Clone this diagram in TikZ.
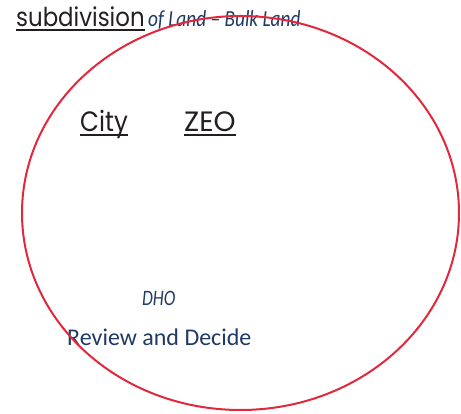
\documentclass[tikz,border=0pt]{standalone}
\usepackage{fontspec}
\setmainfont{Carlito}
\newfontfamily\geofont{Poppins}
\usepackage{tikz}
\usetikzlibrary{positioning, calc}
\definecolor{ringred}{HTML}{E1283C}
\definecolor{deepblue}{HTML}{1F3A64}
\definecolor{inkgray}{HTML}{231F20}
\tikzset{
  headtext/.style={
    inner sep=0pt, text=inkgray, font=\geofont\fontsize{26}{30}\selectfont
  },
  partytext/.style={
    inner sep=0pt, text=inkgray, font=\geofont\fontsize{28}{32}\selectfont
  },
  subtext/.style={
    inner sep=0pt, text=deepblue, font=\itshape\fontsize{23}{26}\selectfont
  },
  bodytext/.style={
    inner sep=0pt, text=deepblue, font=\fontsize{24}{28}\selectfont
  },
  ulineline/.style={inkgray, line width=1.2pt},
  ringline/.style={ringred, line width=2pt},
}

\begin{document}
\begin{tikzpicture}[x=1pt, y=-1pt]
  \useasboundingbox (0,0) rectangle (461,414);

  % ── Title line ─────────────────────────────────────────────────
  \node[headtext, anchor=base west, xscale=0.88] (subdiv) at (16,27) {subdivision};
  \node[subtext, anchor=base west, xscale=0.84] (bulk) at (148,27)
    {of Land -- Bulk Land};
  \draw[ulineline] ($(subdiv.base west)+(0,3)$) -- ($(subdiv.base east)+(0,3)$);

  % ── Parties ────────────────────────────────────────────────────
  \node[partytext, anchor=base west, xscale=0.875] (city) at (80,132) {City};
  \node[partytext, anchor=base west, xscale=1.0] (zeo) at (184,132) {ZEO};
  \draw[ulineline] ($(city.base west)+(0,3)$) -- ($(city.base east)+(0,3)$);
  \draw[ulineline] ($(zeo.base west)+(0,3)$) -- ($(zeo.base east)+(0,3)$);

  % ── Decision ───────────────────────────────────────────────────
  \node[subtext, anchor=base west, xscale=0.8,
        font=\itshape\fontsize{22}{26}\selectfont] (dho) at (142,306) {DHO};
  \node[bodytext, anchor=base west] (review) at (67,345) {Review and Decide};

  % ── Red ring ───────────────────────────────────────────────────
  \draw[ringline] (240.5,213) ellipse [x radius=218.5, y radius=197];
\end{tikzpicture}
\end{document}
